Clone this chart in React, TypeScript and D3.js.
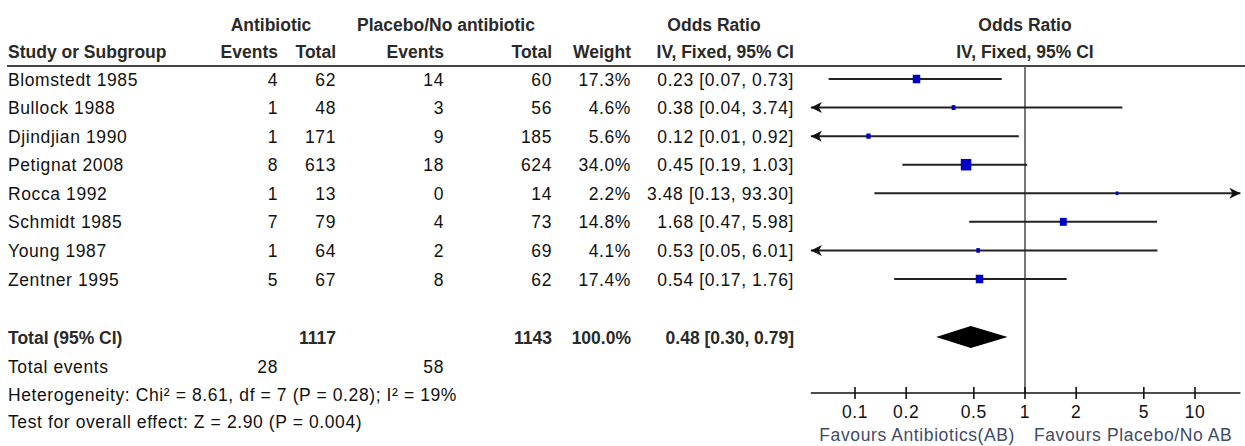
import { useEffect, useRef } from "react";
import * as d3 from "d3";

// ─── Data ─────────────────────────────────────────────────────────────────────

const STUDIES = [
  "Blomstedt 1985",
  "Bullock 1988",
  "Djindjian 1990",
  "Petignat 2008",
  "Rocca 1992",
  "Schmidt 1985",
  "Young 1987",
  "Zentner 1995",
];
const AB_EVENTS = [4, 1, 1, 8, 1, 7, 1, 5];
const AB_TOTAL = [62, 48, 171, 613, 13, 79, 64, 67];
const PL_EVENTS = [14, 3, 9, 18, 0, 4, 2, 8];
const PL_TOTAL = [60, 56, 185, 624, 14, 73, 69, 62];
const WEIGHTS = [17.3, 4.6, 5.6, 34.0, 2.2, 14.8, 4.1, 17.4];
const OR = [0.23, 0.38, 0.12, 0.45, 3.48, 1.68, 0.53, 0.54];
const CI_LOW = [0.07, 0.04, 0.01, 0.19, 0.13, 0.47, 0.05, 0.17];
const CI_HIGH = [0.73, 3.74, 0.92, 1.03, 93.3, 5.98, 6.01, 1.76];

// pooled row
const TOTAL_EVENTS = [28, 58];
const TOTAL_N = [1117, 1143];
const TOTAL_WEIGHT = 100.0;
const TOTAL_OR = [0.48, 0.3, 0.79]; // estimate, low, high

const TICKS = [0.1, 0.2, 0.5, 1, 2, 5, 10];
const AXIS_LIMITS = [0.055, 18.5];

const HETEROGENEITY = "Heterogeneity: Chi² = 8.61, df = 7 (P = 0.28); I² = 19%";
const OVERALL = "Test for overall effect: Z = 2.90 (P = 0.004)";

// ─── Style ────────────────────────────────────────────────────────────────────

const FONT = "'Liberation Sans', Arial, sans-serif";
const HEAD = "#2a2a2a";
const TXT = "#111";
const BLUE = "#0000c8";
const FAVOUR = "#3f4a66";

const fmtOR = (o: number, l: number, h: number) =>
  `${o.toFixed(2)} [${l.toFixed(2)}, ${h.toFixed(2)}]`;

export default function App() {
  const svgRef = useRef<SVGSVGElement>(null);

  useEffect(() => {
    if (!svgRef.current) return;
    const W = 1245,
      H = 446;
    const svg = d3.select(svgRef.current);
    svg.selectAll("*").remove();
    svg.attr("width", W).attr("height", H);

    const x = d3.scaleLog().domain([0.1, 10]).range([855, 1195]);
    const y = d3.scalePoint<string>().domain(STUDIES).range([79, 279]);
    const totalY = 337;
    const axisY = 393;
    const fs = 17.5;

    const text = (
      tx: number,
      ty: number,
      s: string,
      anchor = "start",
      bold = false,
      fill = TXT,
    ) => {
      const t = svg
        .append("text")
        .attr("x", tx)
        .attr("y", ty)
        .attr("text-anchor", anchor)
        .attr("font-family", FONT)
        .attr("font-size", fs)
        .attr("font-weight", bold ? 700 : 400)
        .attr("fill", fill)
        .text(s);
      if (!bold) t.attr("letter-spacing", 0.6);
      return t;
    };

    // ── Headers ──
    text(271, 31, "Antibiotic", "middle", true, HEAD);
    text(446, 31, "Placebo/No antibiotic", "middle", true, HEAD);
    text(714, 31, "Odds Ratio", "middle", true, HEAD);
    text(1025, 31, "Odds Ratio", "middle", true, HEAD);
    text(8, 58, "Study or Subgroup", "start", true, HEAD);
    text(278, 58, "Events", "end", true, HEAD);
    text(336, 58, "Total", "end", true, HEAD);
    text(444, 58, "Events", "end", true, HEAD);
    text(552, 58, "Total", "end", true, HEAD);
    text(631, 58, "Weight", "end", true, HEAD);
    text(794, 58, "IV, Fixed, 95% CI", "end", true, HEAD);
    text(1025, 58, "IV, Fixed, 95% CI", "middle", true, HEAD);

    svg
      .append("line")
      .attr("x1", 7)
      .attr("x2", W)
      .attr("y1", 66)
      .attr("y2", 66)
      .attr("stroke", "#444")
      .attr("stroke-width", 2);

    // ── Study rows ──
    STUDIES.forEach((s, i) => {
      const by = y(s)! + 6.5;
      text(8, by, s);
      text(278, by, String(AB_EVENTS[i]), "end");
      text(336, by, String(AB_TOTAL[i]), "end");
      text(444, by, String(PL_EVENTS[i]), "end");
      text(552, by, String(PL_TOTAL[i]), "end");
      text(631, by, `${WEIGHTS[i].toFixed(1)}%`, "end");
      text(794, by, fmtOR(OR[i], CI_LOW[i], CI_HIGH[i]), "end");
    });

    // ── Totals & footer ──
    const [tOr, tLo, tHi] = TOTAL_OR;
    text(8, totalY + 7, "Total (95% CI)", "start", true, HEAD);
    text(336, totalY + 7, String(TOTAL_N[0]), "end", true, HEAD);
    text(552, totalY + 7, String(TOTAL_N[1]), "end", true, HEAD);
    text(631, totalY + 7, `${TOTAL_WEIGHT.toFixed(1)}%`, "end", true, HEAD);
    text(794, totalY + 7, fmtOR(tOr, tLo, tHi), "end", true, HEAD);
    text(8, 373, "Total events");
    text(278, 373, String(TOTAL_EVENTS[0]), "end");
    text(444, 373, String(TOTAL_EVENTS[1]), "end");
    text(8, 401, HETEROGENEITY);
    text(8, 428, OVERALL);

    // ── Plot ──
    const [lim0, lim1] = AXIS_LIMITS;
    const xl = x(lim0),
      xr = x(lim1);

    svg
      .append("line")
      .attr("x1", x(1))
      .attr("x2", x(1))
      .attr("y1", 66)
      .attr("y2", axisY)
      .attr("stroke", "#555")
      .attr("stroke-width", 1.6);

    const arrow = (tipX: number, cy: number, dir: number) =>
      svg
        .append("path")
        .attr(
          "d",
          `M${tipX},${cy} L${tipX - dir * 11},${cy - 5.5} L${tipX - dir * 8},${cy} L${tipX - dir * 11},${cy + 5.5} Z`,
        )
        .attr("fill", "#111");

    STUDIES.forEach((s, i) => {
      const cy = y(s)!;
      const lo = Math.max(CI_LOW[i], lim0);
      const hi = Math.min(CI_HIGH[i], lim1);
      svg
        .append("line")
        .attr("x1", x(lo))
        .attr("x2", x(hi))
        .attr("y1", cy)
        .attr("y2", cy)
        .attr("stroke", "#222")
        .attr("stroke-width", 2);
      if (CI_LOW[i] < lim0) arrow(xl, cy, -1);
      if (CI_HIGH[i] > lim1) arrow(xr, cy, 1);
      const side = Math.max(2.5, 1.8 * Math.sqrt(WEIGHTS[i]));
      svg
        .append("rect")
        .attr("x", x(OR[i]) - side / 2)
        .attr("y", cy - side / 2 - 0.5)
        .attr("width", side)
        .attr("height", side + 1)
        .attr("fill", BLUE);
    });

    // Pooled diamond
    svg
      .append("path")
      .attr(
        "d",
        `M${x(tLo)},${totalY} L${x(tOr)},${totalY - 11} L${x(tHi)},${totalY} L${x(tOr)},${totalY + 11} Z`,
      )
      .attr("fill", "#000");

    // Axis
    const ax = svg.append("g").attr("transform", `translate(0,${axisY})`);
    ax.append("line")
      .attr("x1", xl)
      .attr("x2", xr)
      .attr("stroke", "#111")
      .attr("stroke-width", 1.6);
    const tk = ax
      .selectAll(".tk")
      .data(TICKS)
      .enter()
      .append("g")
      .attr("transform", (d) => `translate(${x(d)},0)`);
    tk.append("line")
      .attr("y1", -6)
      .attr("y2", 6)
      .attr("stroke", "#111")
      .attr("stroke-width", 1.6);
    tk.append("text")
      .attr("y", 25)
      .attr("text-anchor", "middle")
      .attr("font-family", FONT)
      .attr("font-size", fs)
      .attr("letter-spacing", 0.6)
      .attr("fill", TXT)
      .text((d) => String(d));

    text(1015, 441, "Favours Antibiotics(AB)", "end", false, FAVOUR);
    text(1034, 441, "Favours Placebo/No AB", "start", false, FAVOUR);
  }, []);

  return (
    <div style={{ position: "absolute", left: 0, top: 0, background: "#fff" }}>
      <svg ref={svgRef} style={{ display: "block" }} />
    </div>
  );
}
